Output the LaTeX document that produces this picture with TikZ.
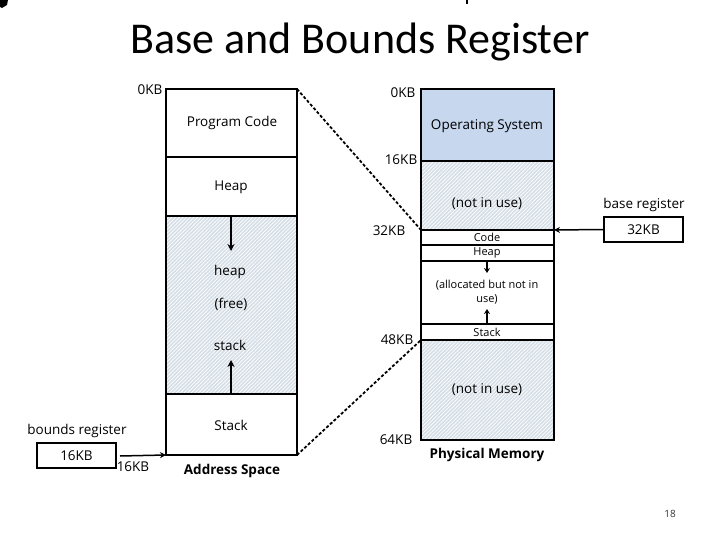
\documentclass[tikz,border=0pt]{standalone}
\usepackage{fontspec}
\setmainfont{Open Sans}
\newfontfamily\titlefont{Carlito}
\usetikzlibrary{patterns.meta,arrows.meta}
\definecolor{osblue}{RGB}{198,215,238}
\definecolor{hatchbg}{RGB}{214,223,231}
\tikzset{
  box/.style={draw=black,line width=1.5pt},
  lbl/.style={font=\fontsize{13.5}{15}\selectfont,inner sep=0pt},
  slbl/.style={font=\fontsize{11}{14}\selectfont,inner sep=0pt},
  blbl/.style={font=\fontsize{13.5}{15}\selectfont\bfseries,inner sep=0pt},
  hatch/.style={pattern={Lines[angle=45,distance=2.6pt,line width=0.7pt]},pattern color=white},
  conn/.style={line width=1.5pt,-{Stealth[length=7pt,width=7pt]}},
  sconn/.style={line width=1.3pt,-{Stealth[length=5pt,width=6pt]}},
  dashconn/.style={line width=1.8pt,dash pattern=on 3pt off 2pt}
}
\begin{document}
\begin{tikzpicture}[x=1pt,y=-1pt]
\useasboundingbox (0,0) rectangle (720,540);
% artifacts
\fill (0,0) -- (8,0) -- (7,5) -- (2,8) -- (0,7) -- cycle;
\fill (466,0) rectangle (467.5,4);
% title
\node[font=\titlefont\fontsize{44}{48}\selectfont,inner sep=0pt] (title) at (360,42) {Base and Bounds Register};

% ---------- address space ----------
\fill[hatchbg] (166,216) rectangle (297,394);
\fill[hatch] (166,216) rectangle (297,394);
\draw[box] (166,89) rectangle (297,455);
\draw[box] (166,157) -- (297,157);
\draw[box] (166,216) -- (297,216);
\draw[box] (166,394) -- (297,394);
\coordinate (asTR) at (297,89);
\coordinate (asBR) at (297,455);
\coordinate (asBL) at (166,455);
\coordinate (heapTop) at (231,216);
\coordinate (heapTip) at (231,251);
\coordinate (stackTop) at (231,394);
\coordinate (stackTip) at (231,360);
\draw[conn] (heapTop) -- (heapTip);
\draw[conn] (stackTop) -- (stackTip);
\node[lbl] (as0) at (150,90) {0KB};
\node[lbl] (pcode) at (232,123) {Program Code};
\node[lbl] (heapA) at (231,187) {Heap};
\node[lbl] (heapB) at (230,272) {heap};
\node[lbl] (free) at (231,304) {(free)};
\node[lbl] (stackB) at (230,345) {stack};
\node[lbl] (stackA) at (231,425) {Stack};
\node[blbl] (asname) at (232,471) {Address Space};

% ---------- physical memory ----------
\fill[osblue] (421,89) rectangle (554,161);
\fill[hatchbg] (421,161) rectangle (554,230);
\fill[hatch] (421,161) rectangle (554,230);
\fill[hatchbg] (421,340) rectangle (554,440);
\fill[hatch] (421,340) rectangle (554,440);
\draw[box] (421,89) rectangle (554,440);
\draw[box] (421,161) -- (554,161);
\draw[box] (421,230) -- (554,230);
\draw[box] (421,245) -- (554,245);
\draw[box] (421,261) -- (554,261);
\draw[box] (421,324) -- (554,324);
\draw[box] (421,340) -- (554,340);
\coordinate (pm32) at (421,230);
\coordinate (pm32R) at (554,230);
\coordinate (pm48) at (421,340);
\coordinate (phTop) at (487,261);
\coordinate (phTip) at (487,273);
\coordinate (psTop) at (487,324);
\coordinate (psTip) at (487,309);
\draw[sconn] (phTop) -- (phTip);
\draw[sconn] (psTop) -- (psTip);
\node[lbl] (pm0) at (403,93) {0KB};
\node[lbl] (pm16) at (401,160) {16KB};
\node[lbl] (pm32l) at (389,231) {32KB};
\node[lbl] (pm48l) at (397,340) {48KB};
\node[lbl] (pm64l) at (396,440) {64KB};
\node[lbl] (os) at (487,126) {Operating System};
\node[lbl] (niu1) at (487,204) {(not in use)};
\node[slbl] (pcodeP) at (487,237) {Code};
\node[slbl] (pheapP) at (487,253) {Heap};
\node[slbl,align=center] (alloc) at (487,292) {(allocated but not in\\use)};
\node[slbl] (pstackP) at (487,332) {Stack};
\node[lbl] (niu2) at (487,390) {(not in use)};
\node[blbl] (pmname) at (487,455) {Physical Memory};

% dashed mapping
\draw[dashconn] (asTR) -- (pm32);
\draw[dashconn] (asBR) -- (pm48);

% ---------- base register ----------
\node[box,minimum width=79pt,minimum height=25pt,inner sep=0pt,lbl] (base) at (643.5,229.5) {32KB};
\node[lbl] (baselbl) at (644,205) {base register};
\draw[line width=1.5pt,-{Stealth[length=6pt,width=6pt]}] (base.west) -- (pm32R);

% ---------- bounds register ----------
\node[box,minimum width=79pt,minimum height=25pt,inner sep=0pt,lbl] (bounds) at (76.5,455.5) {16KB};
\node[lbl] (boundslbl) at (77,431) {bounds register};
\coordinate (bArrS) at (120,456);
\draw[line width=1.5pt,-{Stealth[length=6pt,width=6pt]}] (bArrS) -- (asBL);
\node[lbl] (b16) at (133,467) {16KB};

% page number
\node[lbl,font=\fontsize{10}{11}\selectfont,text=black!80] (page) at (670,514) {18};
\end{tikzpicture}
\end{document}
